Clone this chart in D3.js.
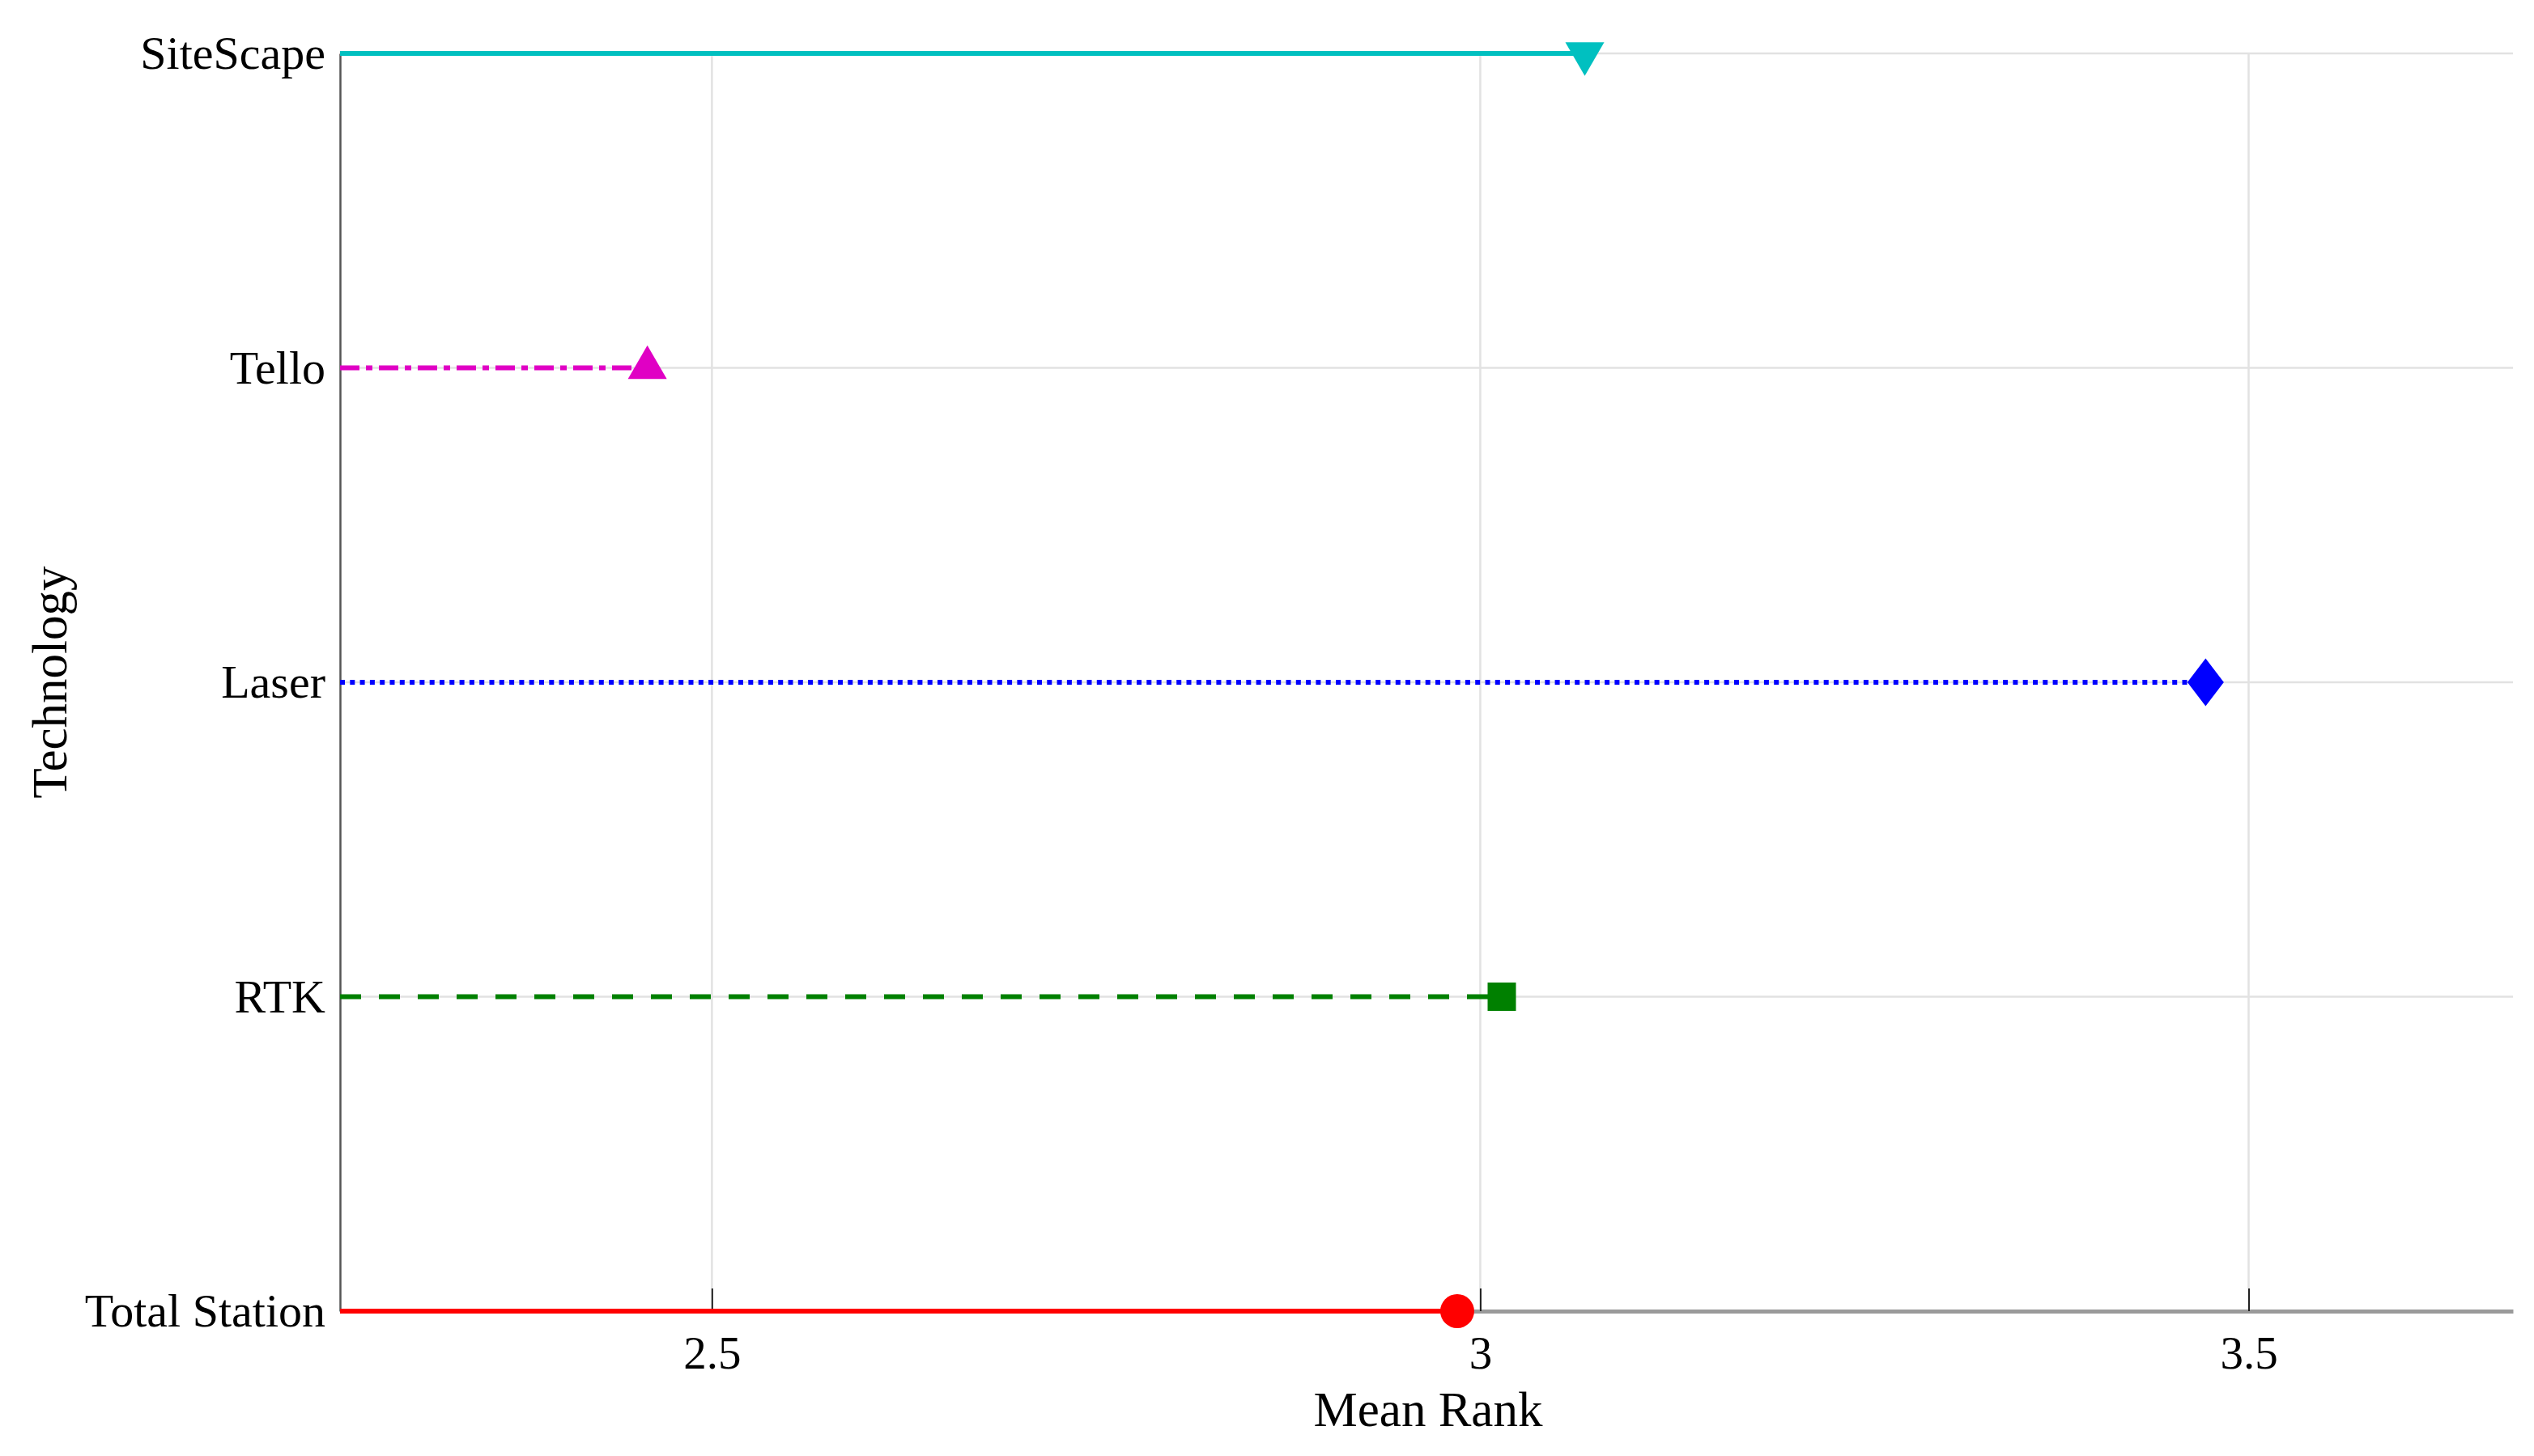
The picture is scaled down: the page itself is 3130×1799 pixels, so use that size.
<!DOCTYPE html>
<html>
<head>
<meta charset="utf-8">
<script src="https://cdn.jsdelivr.net/npm/d3@7"></script>
<style>
  body { margin: 0; background: #fff; }
  text { font-family: "Liberation Serif", "Times New Roman", serif; fill: #000; }
</style>
</head>
<body>
<svg id="chart"></svg>
<script>
// data
var technologies = ["SiteScape", "Tello", "Laser", "RTK", "Total Station"];
var meanRank = [3.068, 2.458, 3.472, 3.014, 2.985];
var xTicks = [2.5, 3, 3.5];
var xLimits = [2.258, 3.672];

// styles, one per technology (same order)
var lineColors = ["#00c0c0", "#e000c4", "#0000ff", "#008000", "#ff0000"];
var lineDashes = [null, "24,8,8,8", "6,6.3", "26,22", null];
var markerKinds = ["triangleDown", "triangleUp", "diamond", "square", "circle"];

// window size
var width = 3130;
var height = 1799;
var plotLeft = 420, plotRight = 3104, plotTop = 66, plotBottom = 1620;

var svg = d3.select("#chart")
  .attr("width", width)
  .attr("height", height);

var x = d3.scaleLinear(xLimits, [plotLeft, plotRight]);
var y = d3.scalePoint(technologies, [plotTop, plotBottom]).padding(0);

// grid
svg.append("g")
  .selectAll("line")
  .data(xTicks)
  .enter()
  .append("line")
  .attr("x1", (d) => x(d)).attr("x2", (d) => x(d))
  .attr("y1", plotTop).attr("y2", plotBottom)
  .attr("stroke", "#e2e2e2").attr("stroke-width", 2.5);

svg.append("g")
  .selectAll("line")
  .data(technologies)
  .enter()
  .append("line")
  .attr("x1", plotLeft).attr("x2", plotRight)
  .attr("y1", (d) => y(d)).attr("y2", (d) => y(d))
  .attr("stroke", "#e2e2e2").attr("stroke-width", 2.5);

// x axis
var xAxis = d3.axisBottom(x)
  .tickValues(xTicks)
  .tickFormat(d3.format("~g"))
  .tickSizeInner(-28)
  .tickSizeOuter(0)
  .tickPadding(31);

var gx = svg.append("g")
  .attr("transform", "translate(0," + plotBottom + ")")
  .call(xAxis);
gx.select(".domain").attr("stroke", "#9a9a9a").attr("stroke-width", 5);
gx.selectAll(".tick line").attr("stroke", "#222").attr("stroke-width", 2);
gx.selectAll(".tick text")
  .attr("font-family", "Liberation Serif")
  .attr("font-size", 57)
  .attr("fill", "#000");

// y axis
var yAxis = d3.axisLeft(y)
  .tickSize(0)
  .tickPadding(18);

var gy = svg.append("g")
  .attr("transform", "translate(" + plotLeft + ",0)")
  .call(yAxis);
gy.select(".domain").attr("stroke", "#555").attr("stroke-width", 2.5);
gy.selectAll(".tick text")
  .attr("font-family", "Liberation Serif")
  .attr("font-size", 58)
  .attr("fill", "#000");

// axis labels
svg.append("text")
  .attr("text-anchor", "middle")
  .attr("x", 1764)
  .attr("y", 1762)
  .attr("font-size", 61)
  .text("Mean Rank");

svg.append("text")
  .attr("text-anchor", "middle")
  .attr("transform", "translate(82," + ((plotTop + plotBottom) / 2) + ") rotate(-90)")
  .attr("font-size", 61)
  .text("Technology");

// stems
var rows = technologies.map((t, i) => ({
  name: t, value: meanRank[i], color: lineColors[i], dash: lineDashes[i], kind: markerKinds[i]
}));

svg.append("g")
  .selectAll("line")
  .data(rows)
  .enter()
  .append("line")
  .attr("x1", x(xLimits[0]))
  .attr("x2", (d) => x(d.value))
  .attr("y1", (d) => y(d.name))
  .attr("y2", (d) => y(d.name))
  .attr("stroke", (d) => d.color)
  .attr("stroke-width", 6)
  .attr("stroke-dasharray", (d) => d.dash);

// markers
var diamondShape = {
  draw: function (ctx, size) {
    var w = 22.5, h = 29.5;
    ctx.moveTo(0, -h);
    ctx.lineTo(w, 0);
    ctx.lineTo(0, h);
    ctx.lineTo(-w, 0);
    ctx.closePath();
  }
};

function markerPath(kind)
{
  switch (kind)
  {
    case "triangleUp":
    case "triangleDown":
      return d3.symbol(d3.symbolTriangle, 1000)();
    case "diamond":
      return d3.symbol(diamondShape, 1)();
    case "square":
      return d3.symbol(d3.symbolSquare, 1225)();
    default:
      return d3.symbol(d3.symbolCircle, 1385)();
  }
}

svg.append("g")
  .selectAll("path")
  .data(rows)
  .enter()
  .append("path")
  .attr("d", (d) => markerPath(d.kind))
  .attr("transform", (d) => "translate(" + x(d.value) + "," + y(d.name) + ")" +
    (d.kind == "triangleDown" ? " rotate(180)" : ""))
  .attr("fill", (d) => d.color);
</script>
</body>
</html>
